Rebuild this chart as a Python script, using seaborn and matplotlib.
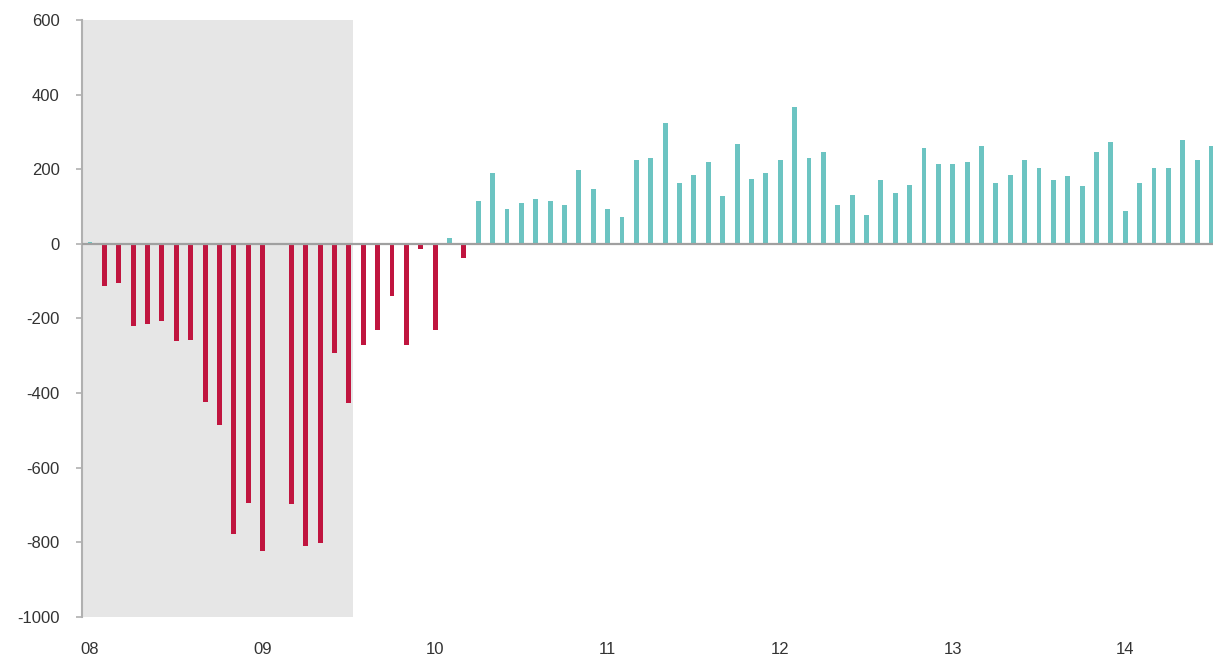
import numpy as np
import pandas as pd
import seaborn as sns
import matplotlib.pyplot as plt

# monthly change, Jan 2008 onwards (thousands)
changes = [5, -114, -104, -220, -214, -206, -260, -257, -423, -485,
           -777, -694, -822, 0, -697, -810, -802, -292, -427, -271,
           -231, -139, -271, -14, -231, 16, -37, 115, 191, 93,
           109, 121, 115, 104, 197, 147, 93, 71, 224, 230,
           323, 164, 185, 219, 127, 268, 175, 191, 224, 366,
           230, 247, 104, 131, 77, 170, 136, 158, 256, 214,
           214, 219, 263, 164, 185, 224, 202, 170, 181, 154,
           246, 273, 88, 164, 202, 202, 279, 224, 263]
year_labels = ["08", "09", "10", "11", "12", "13", "14"]
y_ticks = [600, 400, 200, 0, -200, -400, -600, -800, -1000]

df = pd.DataFrame({"month": range(len(changes)), "change": changes})
df["sign"] = np.where(df["change"] >= 0, "pos", "neg")

sns.set_style("white")
plt.rcParams['font.family'] = ['Liberation Sans', 'DejaVu Sans']

fig = plt.figure(figsize=(12.13, 6.55), dpi=100)
ax = fig.add_axes([0.0676, 0.058, 0.9324, 0.9115])

# recession shading
ax.axvspan(-0.5, 18.3, color="#e6e6e6", zorder=0, lw=0)

sns.barplot(data=df, x="month", y="change", hue="sign",
            palette={"pos": "#6cc4c2", "neg": "#c0153f"},
            saturation=1, width=0.34, dodge=False, legend=False,
            linewidth=0, ax=ax, zorder=2)

ax.axhline(0, color="#a0a0a0", lw=1.6, zorder=3)

ax.set_xlim(-0.56, 78.1)
ax.set_ylim(-1000, 600)
ax.set_yticks(y_ticks)
ax.set_yticklabels([str(v) for v in y_ticks], fontsize=12, color="#333333")
ax.set_xticks(range(0, len(changes), 12))
ax.set_xticklabels(year_labels, fontsize=12, color="#333333")
ax.set_xlabel("")
ax.set_ylabel("")

for s in ["top", "right", "bottom"]:
    ax.spines[s].set_visible(False)
ax.spines["left"].set_color("#b0b0b0")
ax.spines["left"].set_linewidth(1.5)
ax.tick_params(axis="y", length=4, width=1.2, color="#b0b0b0", pad=12, left=True)
ax.tick_params(axis="x", length=0, pad=18)

fig.savefig("out.png", dpi=100)
